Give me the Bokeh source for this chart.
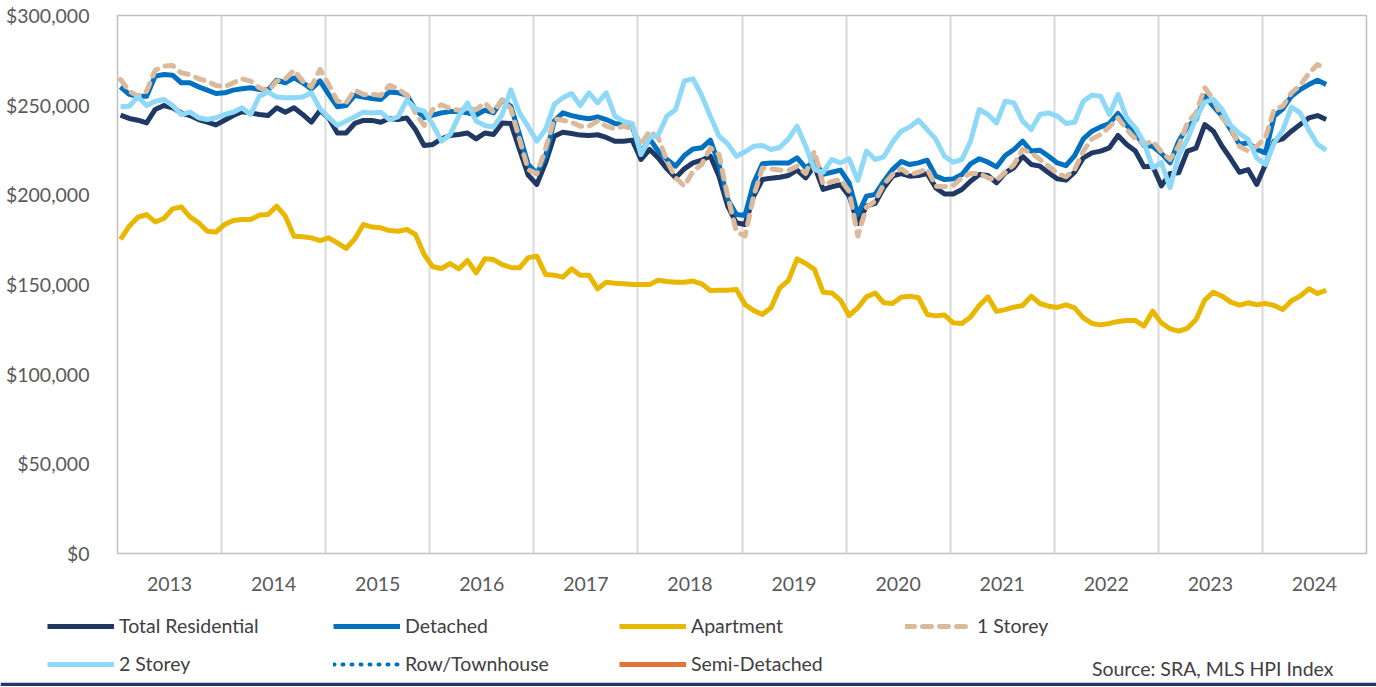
from bokeh.plotting import figure
from bokeh.models import (ColumnDataSource, Legend, LegendItem, FixedTicker,
                          NumeralTickFormatter, Label, Range1d)
from bokeh.layouts import column
from bokeh.embed import file_html
from bokeh.resources import INLINE

# ---------------- data (values in $ thousands, monthly from Jan 2013) ----------------
years = ["2013", "2014", "2015", "2016", "2017", "2018", "2019", "2020", "2021", "2022", "2023", "2024"]

total_residential = [
    244.4, 242.6, 241.6, 240.1, 247.6, 249.8, 248.5, 245.7, 244.2, 242.0, 240.5, 239.0,
    241.6, 244.2, 246.3, 245.7, 244.8, 244.2, 248.5, 246.1, 248.5, 244.8, 240.5, 247.0,
    242.9, 234.5, 234.5, 239.8, 241.5, 241.5, 240.5, 242.6, 242.0, 242.9, 236.4, 227.5,
    228.1, 231.2, 233.1, 233.6, 234.5, 231.2, 234.5, 233.6, 240.1, 239.8, 225.3, 211.0,
    205.8, 217.8, 232.7, 234.9, 234.2, 233.3, 233.1, 233.5, 232.0, 229.9, 229.9, 230.5,
    219.7, 225.3, 220.6, 214.5, 209.5, 214.5, 217.8, 219.3, 221.6, 210.4, 193.7, 184.4,
    183.5, 199.3, 208.5, 209.3, 209.8, 210.8, 213.8, 209.5, 216.0, 203.0, 204.5, 205.6,
    199.3, 184.0, 193.7, 195.2, 203.9, 210.4, 211.9, 210.4, 210.8, 211.9, 203.9, 200.5,
    200.5, 203.0, 207.6, 211.3, 210.8, 206.7, 212.3, 215.1, 221.5, 216.9, 216.0, 212.3,
    208.9, 208.2, 212.6, 220.6, 223.4, 224.4, 226.2, 233.1, 228.1, 224.4, 215.6, 216.0,
    205.0, 211.9, 212.3, 224.4, 226.1, 239.2, 235.5, 227.1, 220.1, 212.6, 214.1, 205.8,
    216.9, 229.9, 231.2, 235.5, 239.2, 242.9, 244.2, 242.0,
]

detached = [
    260.2, 256.0, 255.0, 255.0, 266.2, 267.1, 266.7, 262.5, 262.5, 260.2, 258.4, 256.5,
    256.9, 258.4, 259.1, 259.7, 258.7, 258.4, 263.9, 262.5, 265.2, 262.5, 259.1, 263.5,
    256.0, 249.1, 249.8, 255.4, 254.5, 253.7, 253.2, 257.4, 256.9, 255.6, 247.6, 243.0,
    244.4, 245.7, 246.5, 246.5, 245.7, 244.4, 247.2, 245.7, 252.8, 249.4, 233.6, 217.0,
    211.9, 221.6, 241.1, 245.7, 244.2, 243.1, 242.4, 243.5, 242.0, 239.8, 239.2, 238.3,
    223.4, 231.2, 224.3, 219.7, 216.0, 221.9, 225.6, 226.2, 230.5, 216.9, 197.4, 189.0,
    188.5, 206.7, 217.3, 217.8, 217.7, 217.7, 220.6, 215.0, 218.8, 211.4, 212.6, 213.8,
    206.7, 189.0, 199.3, 200.2, 207.6, 214.1, 218.6, 216.9, 217.8, 219.3, 210.4, 208.5,
    208.9, 211.3, 217.3, 220.1, 218.2, 215.6, 221.9, 225.3, 229.9, 224.4, 224.9, 221.5,
    217.8, 216.3, 221.9, 231.2, 235.5, 237.9, 239.8, 245.4, 238.7, 234.5, 227.5, 227.1,
    223.1, 217.8, 229.9, 237.9, 242.0, 255.0, 249.4, 243.9, 236.4, 228.1, 229.0, 225.3,
    223.4, 243.9, 247.9, 255.0, 258.7, 261.5, 263.9, 261.5,
]

apartment = [
    175.1, 182.5, 187.5, 189.0, 184.9, 186.8, 192.2, 193.3, 187.7, 184.4, 179.7, 179.2,
    183.5, 185.7, 186.2, 186.2, 188.7, 189.0, 193.7, 188.1, 176.9, 176.6, 176.0, 174.5,
    176.0, 173.2, 170.1, 175.4, 183.5, 182.0, 181.6, 180.1, 179.7, 180.7, 177.9, 166.7,
    159.9, 158.9, 161.7, 158.7, 163.4, 156.5, 164.3, 163.9, 161.1, 159.5, 159.3, 165.0,
    165.8, 155.6, 155.2, 154.1, 158.7, 155.2, 155.2, 147.6, 151.3, 150.7, 150.4, 150.0,
    150.0, 150.0, 152.4, 151.7, 151.3, 151.3, 151.9, 150.4, 146.7, 146.8, 146.8, 147.2,
    138.8, 135.5, 133.3, 137.0, 148.1, 152.2, 164.3, 161.7, 158.4, 145.7, 145.3, 141.3,
    132.7, 137.0, 143.1, 145.3, 139.8, 139.4, 142.9, 143.5, 142.6, 133.3, 132.5, 133.0,
    128.6, 128.3, 131.9, 138.3, 143.1, 135.0, 136.0, 137.4, 138.3, 143.5, 139.4, 137.9,
    137.2, 138.7, 137.0, 131.4, 128.3, 127.5, 128.3, 129.4, 129.9, 129.9, 126.8, 135.1,
    128.6, 125.3, 124.0, 125.6, 130.5, 141.3, 145.7, 143.5, 140.2, 138.5, 139.8, 138.7,
    139.4, 138.3, 136.0, 140.9, 143.5, 147.6, 145.0, 146.8,
]

one_storey = [
    264.3, 257.8, 255.0, 257.8, 269.5, 271.8, 272.1, 268.0, 267.1, 264.7, 263.4, 261.0,
    260.2, 262.5, 264.7, 263.4, 259.7, 257.8, 263.4, 264.7, 269.5, 263.4, 260.2, 270.0,
    261.5, 252.2, 251.3, 258.4, 256.0, 256.0, 255.4, 261.0, 259.1, 255.6, 245.7, 238.7,
    247.6, 250.2, 248.0, 247.2, 248.0, 247.6, 251.3, 246.1, 252.8, 248.0, 230.9, 214.0,
    211.9, 225.6, 242.4, 241.6, 240.5, 238.3, 238.3, 241.1, 238.3, 236.8, 238.3, 236.8,
    228.1, 235.5, 231.8, 218.8, 209.5, 204.8, 213.2, 216.9, 226.2, 222.5, 199.3, 179.5,
    177.0, 199.3, 215.0, 214.5, 213.8, 213.6, 216.0, 211.9, 224.4, 205.8, 207.4, 208.5,
    202.0, 177.0, 193.0, 196.5, 205.8, 211.3, 214.5, 211.3, 212.6, 214.5, 204.8, 204.5,
    205.2, 209.5, 211.9, 211.9, 209.5, 208.2, 212.6, 216.9, 225.3, 223.4, 219.7, 216.0,
    211.9, 210.1, 214.1, 224.4, 231.2, 233.6, 237.9, 242.9, 236.4, 231.2, 228.1, 229.9,
    224.0, 219.7, 227.1, 240.1, 245.7, 259.7, 253.2, 243.0, 237.4, 227.1, 224.4, 227.1,
    231.8, 247.6, 249.4, 256.9, 261.0, 267.7, 272.7, 269.9,
]

two_storey = [
    249.1, 249.4, 254.7, 249.8, 252.2, 253.2, 249.8, 244.8, 246.1, 243.0, 242.0, 243.0,
    244.8, 246.1, 248.5, 244.8, 255.0, 257.4, 254.5, 254.1, 254.1, 254.5, 256.9, 248.0,
    243.0, 238.7, 241.1, 243.5, 246.1, 245.7, 246.1, 242.0, 243.5, 252.8, 248.0, 246.7,
    239.2, 229.9, 233.6, 243.9, 251.3, 241.1, 238.7, 237.9, 244.8, 258.5, 245.7, 238.0,
    229.9, 236.4, 250.4, 254.1, 256.5, 249.8, 256.9, 251.3, 256.9, 243.9, 240.9, 239.8,
    222.5, 231.8, 233.6, 243.9, 247.6, 263.5, 264.7, 255.4, 243.9, 232.7, 228.4, 221.5,
    224.0, 227.1, 227.5, 225.3, 226.4, 231.2, 238.3, 227.1, 214.1, 212.6, 219.7, 217.8,
    220.1, 208.0, 224.4, 219.7, 221.2, 229.4, 235.5, 237.9, 241.6, 236.4, 230.9, 221.5,
    218.2, 219.7, 229.9, 247.6, 244.8, 240.1, 252.2, 251.3, 241.1, 236.4, 244.8, 245.7,
    243.9, 239.8, 240.5, 252.2, 255.6, 255.0, 244.8, 256.0, 243.0, 237.4, 229.0, 215.1,
    218.0, 204.0, 222.0, 230.9, 243.0, 251.7, 253.2, 247.6, 238.7, 234.2, 230.9, 220.6,
    216.9, 229.0, 236.1, 249.0, 245.7, 236.1, 228.1, 224.9,
]

row_townhouse = []   # no values shown in the chart (legend entry only)
semi_detached = []   # no values shown in the chart (legend entry only)

y_ticks = [0, 50000, 100000, 150000, 200000, 250000, 300000]

# ---------------- styles ----------------
FONT = "Lato"
FS = "19.5px"
LW = 5
STYLES = {
    "Total Residential": dict(line_color="#1F3864", line_width=LW),
    "Detached": dict(line_color="#0070C0", line_width=LW),
    "Apartment": dict(line_color="#EAB700", line_width=LW),
    "1 Storey": dict(line_color="#DBB99B", line_width=LW, line_cap="round", line_dash="9 8"),
    "2 Storey": dict(line_color="#8ED8F8", line_width=LW),
    "Row/Townhouse": dict(line_color="#0070C0", line_width=4, line_cap="round", line_dash="1 8"),
    "Semi-Detached": dict(line_color="#E2743A", line_width=LW),
}

# ---------------- main chart ----------------
month = list(range(len(total_residential)))
src = ColumnDataSource(dict(
    month=month,
    total_residential=[v * 1000 for v in total_residential],
    detached=[v * 1000 for v in detached],
    apartment=[v * 1000 for v in apartment],
    one_storey=[v * 1000 for v in one_storey],
    two_storey=[v * 1000 for v in two_storey],
))
empty_src = ColumnDataSource(dict(month=[], row_townhouse=row_townhouse, semi_detached=semi_detached))

n_months = 12 * len(years)
p = figure(width=1376, height=600, output_backend="svg", toolbar_location=None,
           x_range=Range1d(-0.35, n_months - 0.35), y_range=Range1d(0, 300000),
           min_border_left=117, min_border_right=10, min_border_top=15, min_border_bottom=47,
           background_fill_color="white", border_fill_color="white")
p.frame_align = False

p.outline_line_color = "#BFBFBF"
p.outline_line_width = 1.5

p.ygrid.visible = False
p.xgrid.ticker = FixedTicker(ticks=[12 * k - 0.35 for k in range(1, len(years))])
p.xgrid.grid_line_color = "#D9D9D9"
p.xgrid.grid_line_width = 2

p.xaxis.ticker = FixedTicker(ticks=[12 * k + 5.65 for k in range(len(years))])
p.xaxis.major_label_overrides = {12 * k + 5.65: y for k, y in enumerate(years)}
p.xaxis.axis_line_color = None
p.xaxis.major_tick_line_color = None
p.xaxis.minor_tick_line_color = None
p.xaxis.major_label_standoff = 17
p.xaxis.major_label_text_font = FONT
p.xaxis.major_label_text_font_size = FS
p.xaxis.major_label_text_color = "#595959"

p.yaxis.ticker = FixedTicker(ticks=y_ticks)
p.yaxis.formatter = NumeralTickFormatter(format="$0,0")
p.yaxis.axis_line_color = None
p.yaxis.major_tick_line_color = None
p.yaxis.minor_tick_line_color = None
p.yaxis.major_label_standoff = 22
p.yaxis.major_label_text_font = FONT
p.yaxis.major_label_text_font_size = FS
p.yaxis.major_label_text_color = "#595959"

p.line("month", "total_residential", source=src, line_join="round", **STYLES["Total Residential"])
p.line("month", "detached", source=src, line_join="round", **STYLES["Detached"])
p.line("month", "apartment", source=src, line_join="round", **STYLES["Apartment"])
p.line("month", "one_storey", source=src, line_join="round", **STYLES["1 Storey"])
p.line("month", "two_storey", source=src, line_join="round", **STYLES["2 Storey"])
p.line("month", "row_townhouse", source=empty_src, **STYLES["Row/Townhouse"])
p.line("month", "semi_detached", source=empty_src, **STYLES["Semi-Detached"])

# ---------------- legend strip (separate canvas below the chart) ----------------
# its 4px bottom border, filled navy, forms the rule along the bottom edge
lg = figure(width=1376, height=86, output_backend="svg", toolbar_location=None,
            x_range=Range1d(0, 1), y_range=Range1d(0, 1),
            x_axis_location=None, y_axis_location=None,
            min_border_left=0, min_border_right=0, min_border_top=0, min_border_bottom=4,
            background_fill_color="white", border_fill_color="#1F3864")
lg.frame_align = False
lg.outline_line_color = None
lg.grid.visible = False

# swatch-only renderers: a single missing point, so nothing is drawn in the strip
swatch_src = ColumnDataSource(dict(x=[float("nan")], y=[float("nan")]))
items = []
for name, st in STYLES.items():
    r = lg.line("x", "y", source=swatch_src, **st)
    items.append(LegendItem(label=name, renderers=[r]))

legend = Legend(items=items, location=(47, 7), orientation="horizontal", ncols=4,
                glyph_width=67, glyph_height=20, label_standoff=5, label_width=199,
                spacing=15, padding=0, margin=0,
                border_line_alpha=0, background_fill_alpha=0,
                label_text_font=FONT, label_text_font_size=FS, label_text_color="#404040")
lg.add_layout(legend)

lg.add_layout(Label(x=1333, y=14, x_units="screen", y_units="screen",
                    text="Source: SRA, MLS HPI Index", text_align="right",
                    text_baseline="middle", text_font=FONT, text_font_size=FS,
                    text_color="#404040"))

layout = column(p, lg)
open("out.html", "w").write(file_html(layout, INLINE))
